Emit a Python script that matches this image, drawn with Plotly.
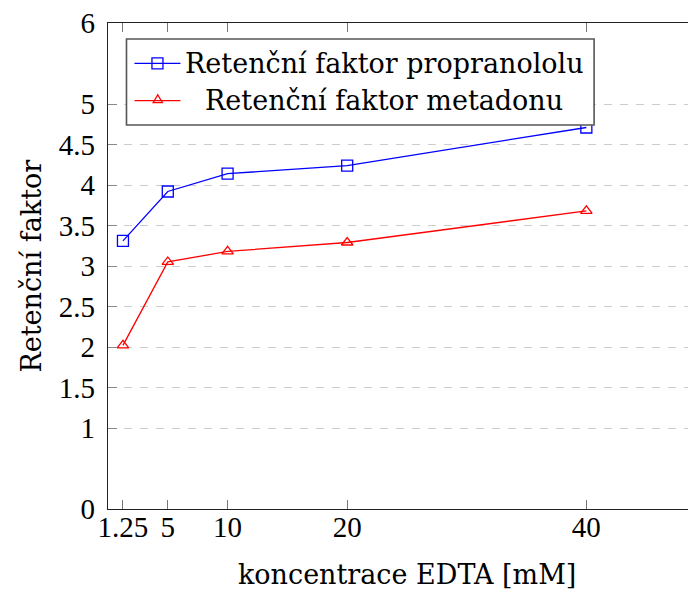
import plotly.graph_objects as go

# ---- data ----
edta_conc = [1.25, 5, 10, 20, 40]
k_propranolol = [3.31, 3.92, 4.14, 4.24, 4.71]
k_metadon = [2.02, 3.05, 3.18, 3.29, 3.68]
series_names = ["Retenční faktor propranololu", "Retenční faktor metadonu"]
x_tick_vals = [1.25, 5, 10, 20, 40]
x_tick_text = ["1.25", "5", "10", "20", "40"]
y_tick_vals = [0, 1, 1.5, 2, 2.5, 3, 3.5, 4, 4.5, 5, 6]
y_tick_text = ["0", "1", "1.5", "2", "2.5", "3", "3.5", "4", "4.5", "5", "6"]
x_title = "koncentrace EDTA [mM]"
y_title = "Retenční faktor"

# ---- geometry (page body has an 8px margin) ----
OFF = 8
W, H = 696 - OFF, 590 - OFF
L, T, B, R = 107.5 - OFF, 23 - OFF, 81, 0
PW, PH = W - L - R, H - T - B


def px(xp):  # reference-pixel x -> paper
    return (xp - OFF - L) / PW


def py(yp):  # reference-pixel y -> paper
    return (H - B - (yp - OFF)) / PH


BLUE = "rgb(0,0,255)"
RED = "rgb(255,0,0)"
TXT_FONT = "'DejaVu Serif', 'Liberation Serif', serif"
NUM_FONT = "'Liberation Serif', 'DejaVu Serif', serif"

fig = go.Figure()
fig.add_trace(go.Scatter(
    x=edta_conc, y=k_propranolol, mode="lines+markers", name=series_names[0],
    line=dict(color=BLUE, width=1.3),
    marker=dict(symbol="square-open", size=11, color=BLUE, line=dict(width=1.3, color=BLUE)),
    showlegend=False,
))
fig.add_trace(go.Scatter(
    x=edta_conc, y=k_metadon, mode="lines+markers", name=series_names[1],
    line=dict(color=RED, width=1.3),
    marker=dict(symbol="triangle-up-open", size=10, color=RED, line=dict(width=1.3, color=RED)),
    showlegend=False,
))

x_max = PW / 11.969

fig.update_layout(
    width=W, height=H,
    margin=dict(l=L, r=R, t=T, b=B, pad=0),
    paper_bgcolor="white", plot_bgcolor="white",
    font=dict(family=TXT_FONT, color="black"),
    xaxis=dict(
        range=[0, x_max], tickvals=x_tick_vals, ticktext=x_tick_text,
        showgrid=False, zeroline=False,
        showline=True, linecolor="#222", linewidth=1.4, mirror="ticks",
        ticks="inside", ticklen=9, tickwidth=1, tickcolor="#777",
        tickfont=dict(family=NUM_FONT, size=29, color="black"),
        ticklabelstandoff=-8, ticklabeloverflow="allow",
    ),
    yaxis=dict(
        range=[0, 6], tickvals=y_tick_vals, ticktext=y_tick_text,
        showgrid=True, gridcolor="#cccccc", gridwidth=1.2, griddash="8px,8px",
        zeroline=False,
        showline=True, linecolor="#222", linewidth=1.4, mirror=False,
        ticks="inside", ticklen=9, tickwidth=1, tickcolor="#888",
        tickfont=dict(family=NUM_FONT, size=29, color="black"),
        ticklabelstandoff=6, ticklabeloverflow="allow",
    ),
)

# ---- legend (pgfplots style, centred text) ----
shapes = []
shapes.append(dict(type="rect", xref="paper", yref="paper",
                   x0=px(126), x1=px(594), y0=py(125), y1=py(39),
                   fillcolor="white", line=dict(color="#555", width=1.6), layer="above"))
rows = [63.3, 100.7]
colors = [BLUE, RED]
for ry, c in zip(rows, colors):
    shapes.append(dict(type="line", xref="paper", yref="paper",
                       x0=px(134), x1=px(180), y0=py(ry), y1=py(ry),
                       line=dict(color=c, width=1.3), layer="above"))
shapes.append(dict(type="rect", xref="paper", yref="paper",
                   x0=px(151.5), x1=px(162.5), y0=py(rows[0] + 5.5), y1=py(rows[0] - 5.5),
                   line=dict(color=BLUE, width=1.3), fillcolor="rgba(0,0,0,0)", layer="above"))
cx, cy = 157.3, 100.0
tri = "M{:.5f},{:.5f} L{:.5f},{:.5f} L{:.5f},{:.5f} Z".format(
    px(cx - 4.6), py(cy + 2.7), px(cx + 4.6), py(cy + 2.7), px(cx), py(cy - 5.3))
shapes.append(dict(type="path", xref="paper", yref="paper", path=tri,
                   line=dict(color=RED, width=1.3), fillcolor="rgba(0,0,0,0)", layer="above"))
fig.update_layout(shapes=shapes)

annotations = []
for name, ry in zip(series_names, rows):
    annotations.append(dict(text=name, xref="paper", yref="paper",
                            x=px(384), y=py(ry), xanchor="center", yanchor="middle",
                            showarrow=False, font=dict(family=TXT_FONT, size=27, color="black")))
annotations.append(dict(text=x_title, xref="paper", yref="paper",
                        x=px(407), y=py(574), xanchor="center", yanchor="middle",
                        showarrow=False, font=dict(family=TXT_FONT, size=27, color="black")))
annotations.append(dict(text=y_title, xref="paper", yref="paper",
                        x=px(30), y=py(266), xanchor="center", yanchor="middle", textangle=-90,
                        showarrow=False, font=dict(family=TXT_FONT, size=27, color="black")))
fig.update_layout(annotations=annotations)

fig.write_html("out.html")
